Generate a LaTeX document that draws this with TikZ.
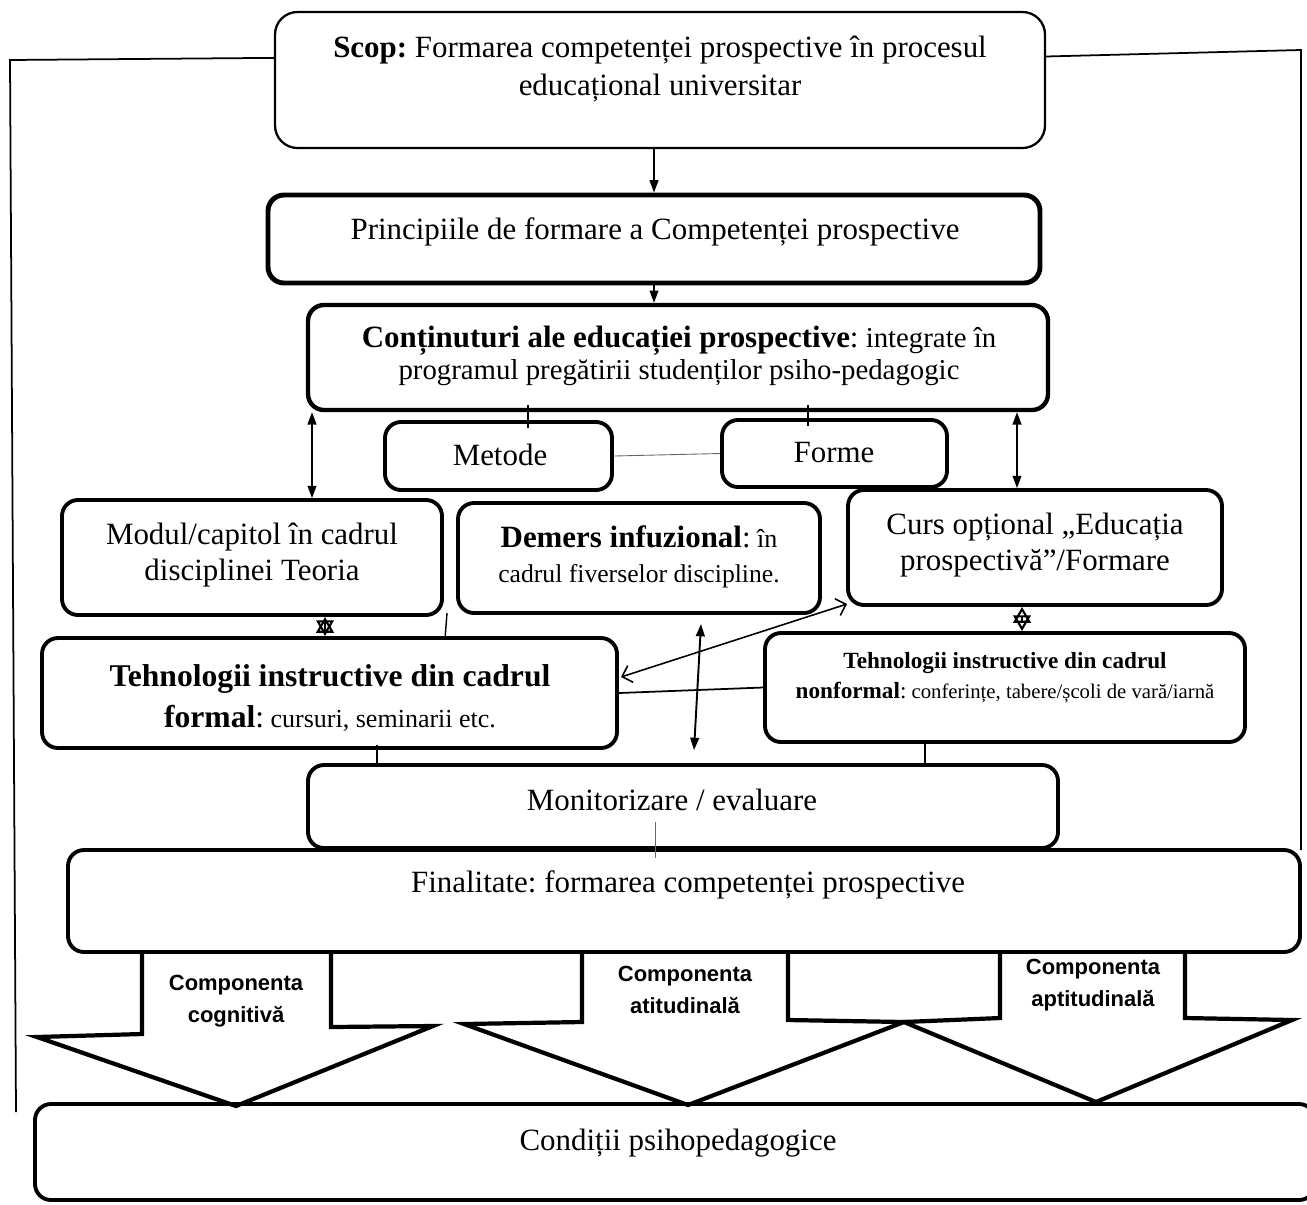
\documentclass[tikz,border=0pt]{standalone}
\usepackage{fontspec}
\setmainfont{Liberation Serif}
\setsansfont{Liberation Sans}
\usetikzlibrary{arrows.meta,calc}
\newdimen\pxu \pxu=0.02cm
\newcommand\SzMain{\fontsize{17.6}{20.5}\selectfont}
\newcommand\SzScop{\fontsize{17.6}{21.6}\selectfont}
\frenchspacing
\begin{document}
\begin{tikzpicture}[x=0.02cm,y=-0.02cm,
 box/.style={draw, rounded corners=0.32cm, line width=2.2pt, inner sep=0pt},
 txt/.style={align=center, inner sep=0pt, font=\SzMain},
 arr/.style={-{Triangle[length=7pt,width=5pt]}, line width=0.8pt},
 darr/.style={{Triangle[length=7pt,width=5pt]}-{Triangle[length=7pt,width=5pt]}, line width=0.9pt},
 oarr/.style={{Straight Barb[length=5pt,width=10pt]}-{Straight Barb[length=5pt,width=10pt]}, line width=0.9pt},
 harr/.style={{Triangle[open,length=9pt,width=10pt]}-{Triangle[open,length=9pt,width=10pt]}, line width=1.2pt},
 link/.style={line width=0.8pt},
 faint/.style={line width=0.5pt, black!60},
 blk/.style={line width=2.4pt, line join=miter, fill=white},
 frame/.style={line width=1pt},
 comp/.style={align=center, inner sep=0pt, font=\sffamily\bfseries\fontsize{12.5}{18.2}\selectfont}
]
\useasboundingbox (0,0) rectangle (1307,1204);

% helper x positions
\coordinate (c312) at (312,0);
\coordinate (c325) at (325,0);
\coordinate (c377) at (377,0);
\coordinate (c528) at (528,0);
\coordinate (c655) at (655,0);
\coordinate (c808) at (808,0);
\coordinate (c925) at (925,0);
\coordinate (c1017) at (1017,0);
\coordinate (c1022) at (1022,0);

% block arrows (drawn first, under the boxes)
\draw[blk] (142,952) -- (142,1034) -- (37,1037) -- (236,1106) -- (433,1026) -- (331,1027) -- (331,952);
\draw[blk] (582,952) -- (582,1022) -- (464,1024) -- (688,1105) -- (904,1022) -- (788,1020) -- (788,952);
\draw[blk] (1000,952) -- (1000,1018) -- (904,1022) -- (1096,1102) -- (1292,1020) -- (1185,1018) -- (1185,952);

% boxes
\node[box, line width=1.3pt, rounded corners=0.45cm, minimum width=770\pxu, minimum height=136\pxu] (scop) at (660,80) {};
\node[box, line width=2.8pt, minimum width=772\pxu, minimum height=88\pxu] (princ) at (654,239) {};
\node[box, line width=2.5pt, minimum width=740\pxu, minimum height=105\pxu] (cont) at (678,357.5) {};
\node[box, minimum width=227\pxu, minimum height=68\pxu] (metode) at (498.5,456) {};
\node[box, minimum width=225\pxu, minimum height=67\pxu] (forme) at (834.5,453.5) {};
\node[box, minimum width=380\pxu, minimum height=115\pxu] (modul) at (252,557.5) {};
\node[box, minimum width=362\pxu, minimum height=110\pxu] (demers) at (639,558) {};
\node[box, minimum width=374\pxu, minimum height=115\pxu] (curs) at (1035,547.5) {};
\node[box, minimum width=575\pxu, minimum height=110\pxu] (formal) at (329.5,693) {};
\node[box, minimum width=480\pxu, minimum height=109\pxu] (nonformal) at (1005,687.5) {};
\node[box, minimum width=750\pxu, minimum height=83\pxu] (monit) at (683,806.5) {};
\node[box, fill=white, minimum width=1232\pxu, minimum height=102\pxu] (final) at (684,901) {};
\node[box, minimum width=1280\pxu, minimum height=96\pxu] (cond) at (675,1152) {};

% texts
\node[txt, font=\SzScop] (scopT) at (660,69) {\textbf{Scop:} Formarea competenței prospective în procesul\\educațional universitar};
\node[txt] (princT) at (655,232) {Principiile de formare a Competenței prospective};
\node[txt, font=\fontsize{17.6}{18.2}\selectfont] (contT) at (679,356) {\textbf{Conținuturi ale educației prospective}:{\fontsize{16.4}{18.2}\selectfont{} integrate în}\\{\fontsize{16.4}{18.2}\selectfont programul pregătirii studenților psiho-pedagogic}};
\node[txt] (metodeT) at (500,455) {Metode};
\node[txt] (formeT) at (834,453) {Forme};
\node[txt] (modulT) at (252,555) {Modul/capitol în cadrul\\disciplinei Teoria};
\node[txt, font=\fontsize{17.6}{20}\selectfont] (demersT) at (639,557) {\textbf{Demers infuzional}:{\fontsize{14.8}{20}\selectfont{} în}\\{\fontsize{14.6}{20}\selectfont cadrul fiverselor discipline.}};
\node[txt] (cursT) at (1035,545) {Curs opțional „Educația\\prospectivă”/Formare};
\node[txt, font=\fontsize{18}{22.8}\selectfont] (formalT) at (330,698) {\textbf{Tehnologii instructive din cadrul}\\\textbf{formal}:{\fontsize{14.8}{22.8}\selectfont{} cursuri, seminarii etc.}};
\node[txt, font=\fontsize{13.2}{17}\selectfont] (nonformalT) at (1005,678) {\textbf{Tehnologii instructive din cadrul}\\\textbf{nonformal}:{\fontsize{11.8}{17}\selectfont{} conferințe, tabere/școli de vară/iarnă}};
\node[txt] (monitT) at (672,800) {Monitorizare / evaluare};
\node[txt] (finalT) at (688,885) {Finalitate: formarea competenței prospective};
\node[txt] (condT) at (678,1143) {Condiții psihopedagogice};
\node[comp] (comp1) at (236,1001) {Componenta\\cognitivă};
\node[comp] (comp2) at (685,990) {Componenta\\atitudinală};
\node[comp] (comp3) at (1093,985) {Componenta\\aptitudinală};

% frame
\coordinate (fTL) at (10,60);
\coordinate (fBL) at (16,1112);
\coordinate (fTR) at (1301,50);
\coordinate (fBR) at (1301,850);
\draw[frame] (fBL) -- (fTL) -- ($(scop.north west)!0.34!(scop.south west)$);
\draw[frame] ($(scop.north east)!0.33!(scop.south east)$) -- (fTR) -- (fBR);

% connectors
\draw[arr] (princ.north |- scop.south) -- (princ.north);
\draw[arr] (princ.south) -- (princ.south |- cont.north);
\draw[link] ($(cont.south -| c528)+(0,-7)$) -- ($(metode.north -| c528)+(0,8)$);
\draw[link] ($(cont.south -| c808)+(0,-7)$) -- ($(forme.north -| c808)+(0,8)$);
\draw[faint] (metode.east) -- (forme.west);
\draw[darr] (cont.south -| c312) -- (modul.north -| c312);
\draw[darr] (cont.south -| c1017) -- (curs.north -| c1017);
\draw[harr] (modul.south -| c325) -- (formal.north -| c325);
\draw[harr] (curs.south -| c1022) -- (nonformal.north -| c1022);
\coordinate (m1) at (447,613);
\coordinate (m2) at (445,639);
\draw[link] (m1) -- (m2);
\coordinate (o1) at (621,677);
\coordinate (o2) at (847,604);
\draw[oarr] (o1) -- (o2);
\draw[link, line width=1pt] (formal.east) -- (nonformal.west);
\coordinate (v1) at (701,624);
\coordinate (v2) at (694,750);
\draw[darr, line width=1.1pt] (v1) -- (v2);
\draw[link] ($(formal.south -| c377)+(0,-5)$) -- (monit.north -| c377);
\draw[link] ($(nonformal.south -| c925)+(0,-4)$) -- (monit.north -| c925);
\draw[faint] ($(monit.south -| c655)+(0,-28)$) -- ($(final.north -| c655)+(0,10)$);
\end{tikzpicture}
\end{document}
